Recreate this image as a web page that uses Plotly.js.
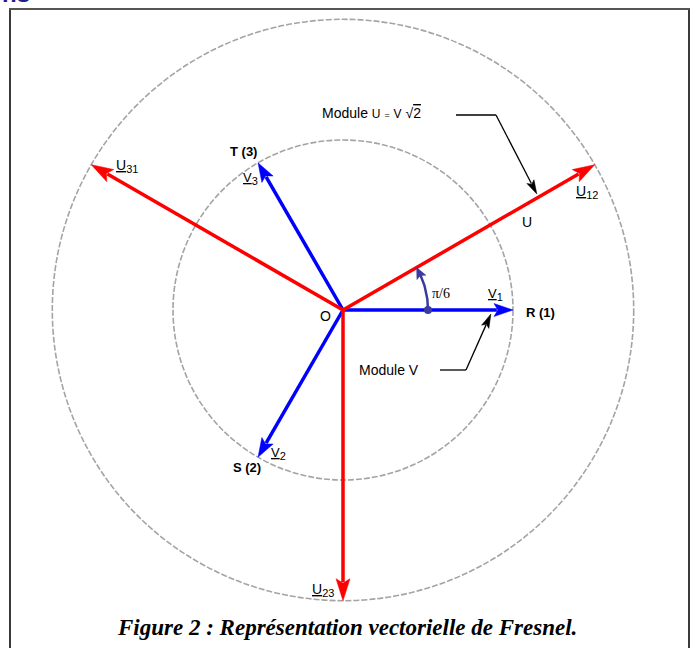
<!DOCTYPE html>
<html><head><meta charset="utf-8">
<script src="https://cdn.plot.ly/plotly-3.0.1.min.js"></script>
<style>html,body{margin:0;padding:0;background:#fff;overflow:hidden}</style>
</head><body><div id="chart" style="width:691px;height:648px"></div>
<script>
// ---- Data ----
const phasorNames   = ['V1', 'V2', 'V3', 'U12', 'U23', 'U31'];
const phasorAngles  = [0, -120, 120, 30, -90, 150];   // degrees
const phasorModules = [1, 1, 1, 1.71, 1.71, 1.71];    // V = 1, U
const circleModules = [1, 1.71];                       // Module V, Module U
const arcAngle = 30;                                   // pi/6
const arcRadius = 0.5;
const calloutU_fraction = 0.77;                        // where the "Module U" arrow hits U12
const calloutV_fraction = 0.87;                        // where the "Module V" arrow hits V1

// ---- Geometry helpers (pixel layout) ----
const W = 691, H = 648;
const S = 170;              // px per unit
const OX = 343, OY = 310;   // origin in px
const xr = [-OX / S, (W - OX) / S];
const yr = [-(H - OY) / S, OY / S];
function P(px, py) { return [(px - OX) / S, (OY - py) / S]; }
const rad = d => d * Math.PI / 180;

const colorOf = n => n[0] === 'V' ? '#0000ff' : '#ff0000';

const traces = [];
function arrow(x0, y0, x1, y1, color, width, headLen, headHalf) {
  const dx = x1 - x0, dy = y1 - y0, len = Math.hypot(dx, dy);
  const ux = dx / len, uy = dy / len;
  const L = headLen / S, Wd = headHalf / S;
  const bx = x1 - ux * L * 0.85, by = y1 - uy * L * 0.85;
  traces.push({type: 'scatter', mode: 'lines', x: [x0, bx], y: [y0, by],
    line: {color: color, width: width}, hoverinfo: 'skip'});
  const cx = x1 - ux * L, cy = y1 - uy * L;
  traces.push({type: 'scatter', mode: 'lines', fill: 'toself', fillcolor: color,
    x: [x1, cx - uy * Wd, x1 - ux * L * 0.8, cx + uy * Wd, x1],
    y: [y1, cy + ux * Wd, y1 - uy * L * 0.8, cy - ux * Wd, y1],
    line: {color: color, width: 0.5}, hoverinfo: 'skip'});
}

// phasors
phasorNames.forEach((n, i) => {
  const a = rad(phasorAngles[i]), m = phasorModules[i];
  const isV = n[0] === 'V';
  arrow(0, 0, m * Math.cos(a), m * Math.sin(a), colorOf(n), 3.5, isV ? 19 : 22, isV ? 6.5 : 7);
});

// pi/6 arc
(function () {
  const xs = [], ys = [];
  for (let d = 0; d <= arcAngle - 4; d += 1) { xs.push(arcRadius * Math.cos(rad(d))); ys.push(arcRadius * Math.sin(rad(d))); }
  traces.push({type: 'scatter', mode: 'lines', x: xs, y: ys, line: {color: '#3a3aa0', width: 2.5}, hoverinfo: 'skip'});
  traces.push({type: 'scatter', mode: 'markers', x: [arcRadius], y: [0], marker: {color: '#3a3aa0', size: 8}, hoverinfo: 'skip'});
  const a0 = rad(arcAngle - 8), a1 = rad(arcAngle);
  arrow(arcRadius * Math.cos(a0), arcRadius * Math.sin(a0), arcRadius * Math.cos(a1), arcRadius * Math.sin(a1), '#3a3aa0', 0.1, 11, 5);
})();

// callout "Module U"
(function () {
  const a = rad(phasorAngles[3]), m = phasorModules[3] * calloutU_fraction;
  const p0 = P(456, 115), p1 = P(496, 115);
  traces.push({type: 'scatter', mode: 'lines', x: [p0[0], p1[0]], y: [p0[1], p1[1]], line: {color: '#000', width: 1.3}, hoverinfo: 'skip'});
  arrow(p1[0], p1[1], m * Math.cos(a), m * Math.sin(a) + 4 / S, '#000', 1.3, 14, 4);
})();
// callout "Module V"
(function () {
  const m = phasorModules[0] * calloutV_fraction;
  const p0 = P(440, 370), p1 = P(466, 370);
  traces.push({type: 'scatter', mode: 'lines', x: [p0[0], p1[0]], y: [p0[1], p1[1]], line: {color: '#000', width: 1.3}, hoverinfo: 'skip'});
  arrow(p1[0], p1[1], m, -4 / S, '#000', 1.3, 14, 4);
})();

// ---- Shapes ----
const shapes = circleModules.map(r => ({type: 'circle', xref: 'x', yref: 'y',
  x0: -r, y0: -r, x1: r, y1: r, line: {color: '#a4a4a4', width: 1.6, dash: '6px,2px'}, layer: 'below'}));
const fx = px => px / W, fy = py => 1 - py / H;
shapes.push({type: 'line', xref: 'paper', yref: 'paper', x0: fx(10), x1: fx(10), y0: fy(9), y1: fy(700), line: {color: '#3a3a3a', width: 2}});
shapes.push({type: 'line', xref: 'paper', yref: 'paper', x0: fx(689), x1: fx(689), y0: fy(9), y1: fy(700), line: {color: '#3a3a3a', width: 2}});
shapes.push({type: 'line', xref: 'paper', yref: 'paper', x0: fx(9), x1: fx(690), y0: fy(9), y1: fy(9), line: {color: '#555', width: 2}});

// ---- Text ----
const sans = 'Liberation Sans, Arial, sans-serif';
function lab(text, px, py, size, opts) {
  const p = P(px, py);
  return Object.assign({text: text, x: p[0], y: p[1], xref: 'x', yref: 'y', showarrow: false,
    xanchor: 'center', yanchor: 'middle', font: {family: sans, size: size, color: '#000'}}, opts || {});
}
const sub = s => '<sub><span style="font-size:11px">' + s + '</span></sub>';
const annotations = [
  lab('O', 325, 316, 14),
  lab('<b>R (1)</b>', 540, 312, 13),
  lab('<u>V</u>' + sub('1'), 495, 294, 13),
  lab('π/6', 441, 293, 13, {font: {family: 'Liberation Serif, serif', size: 14, color: '#000'}}),
  lab('Module V', 389, 370, 14),
  lab('<b>T (3)</b>', 243, 151, 13),
  lab('<u>V</u>' + sub('3'), 250, 178, 13),
  lab('<u>U</u>' + sub('31'), 127, 166, 14),
  lab('<u>U</u>' + sub('12'), 587, 192, 14),
  lab('U', 527, 222, 14),
  lab('<b>S (2)</b>', 247, 467, 13),
  lab('<u>V</u>' + sub('2'), 278, 453, 13),
  lab('<u>U</u>' + sub('23'), 323, 590, 14),
  lab('Module <span style="font-size:12px">U</span> <span style="font-size:9px">=</span> <span style="font-size:12px">V</span> √<span style="text-decoration:overline">2</span>', 371, 113, 14),
  {text: '<b><i>Figure 2 : Représentation vectorielle de Fresnel.</i></b>', xref: 'paper', yref: 'paper',
   x: 347 / W, y: 1 - 627 / H, showarrow: false, xanchor: 'center', yanchor: 'middle',
   font: {family: 'Liberation Serif, Times New Roman, serif', size: 23, color: '#000'}},
  {text: '<b>ns</b>', xref: 'paper', yref: 'paper', x: 0, y: 1 + 7 / H, showarrow: false,
   xanchor: 'left', yanchor: 'middle', font: {family: sans, size: 24, color: '#1e1e8c'}}
];

Plotly.newPlot('chart', traces, {
  width: W, height: H, margin: {l: 0, r: 0, t: 0, b: 0},
  paper_bgcolor: '#fff', plot_bgcolor: '#fff', showlegend: false,
  xaxis: {range: xr, visible: false, fixedrange: true},
  yaxis: {range: yr, visible: false, fixedrange: true},
  shapes: shapes, annotations: annotations
}, {staticPlot: true});
</script></body></html>
